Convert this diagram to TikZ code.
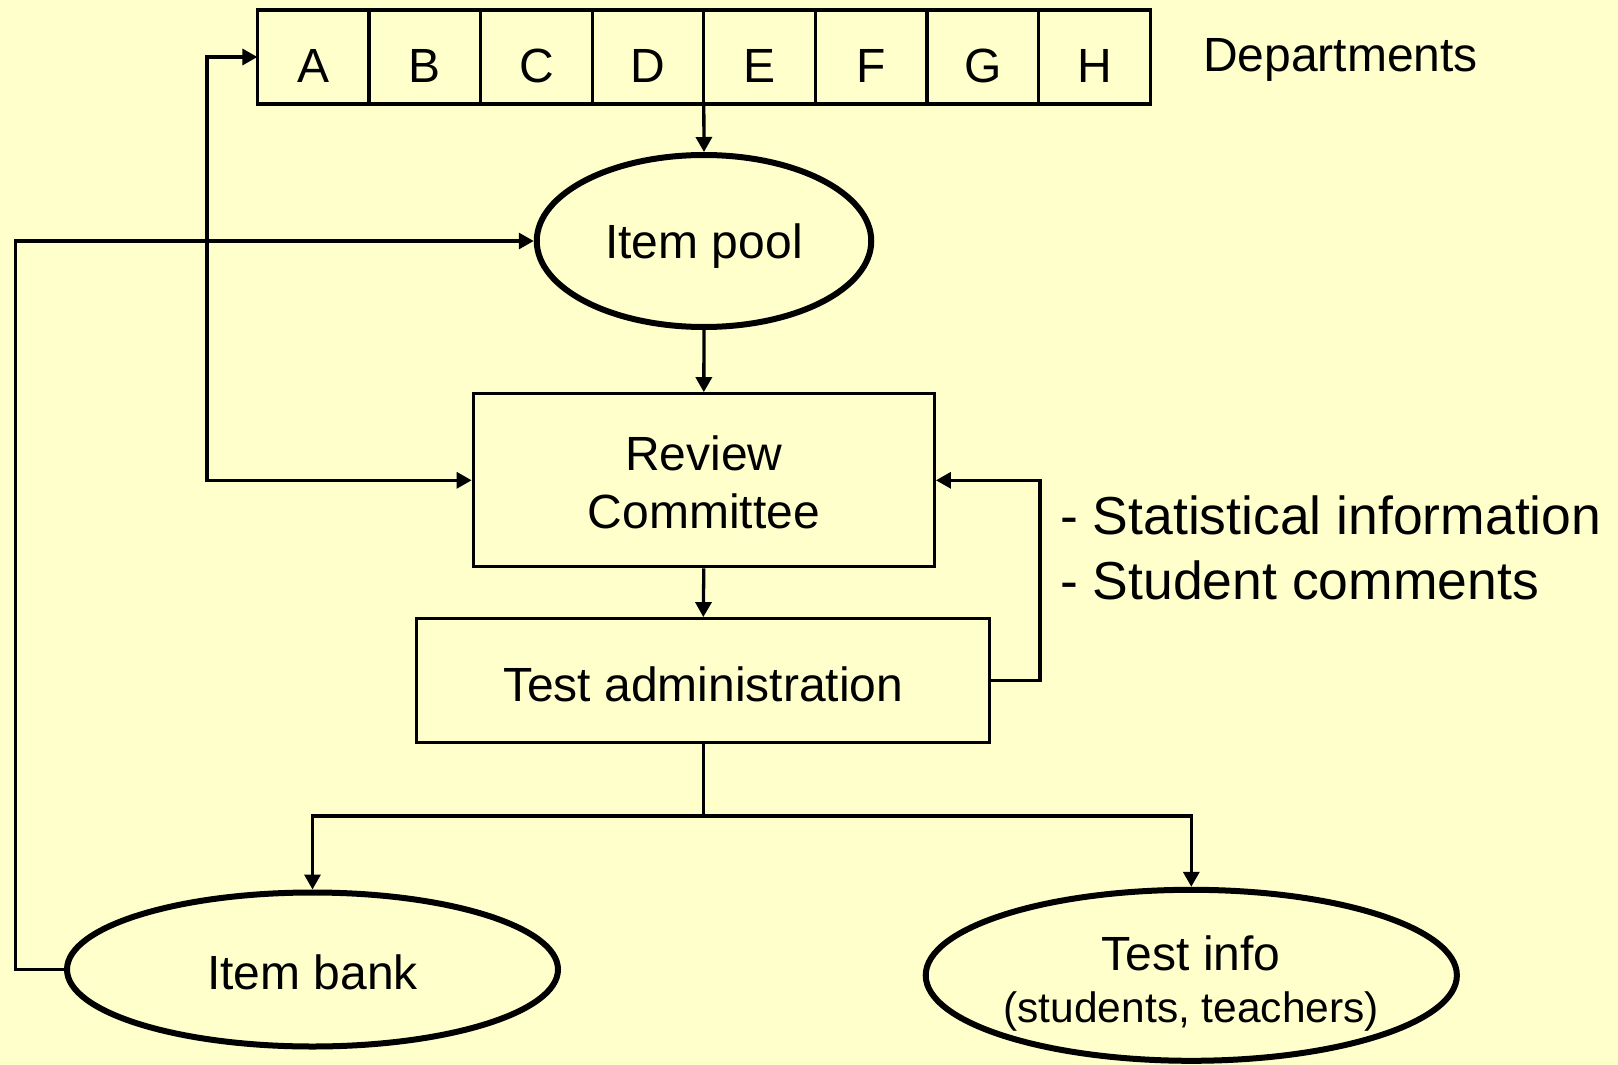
\documentclass[tikz,border=0pt]{standalone}
\usepackage{fontspec}
\setmainfont{Liberation Sans}
\usetikzlibrary{arrows.meta,shapes.geometric}
\definecolor{bg}{HTML}{FFFFCC}
\begin{document}
\begin{tikzpicture}[x=1pt,y=-1pt,
  tip/.style={-{Triangle[length=15pt,width=16pt]}},
  conn/.style={line width=3.3pt},
  cell/.style={draw, line width=3.3pt, minimum width=111.6pt, minimum height=94pt,
    inner sep=0pt, outer sep=0pt, text height=50pt, text depth=0pt, font=\fontsize{48}{58}\selectfont},
  box/.style={draw, line width=3.3pt, inner sep=0pt, align=center, text depth=0pt,
    font=\fontsize{48}{58}\selectfont},
  oval/.style={draw, ellipse, line width=6pt, inner sep=0pt, align=center, text depth=0pt,
    font=\fontsize{48}{58}\selectfont},
  txt/.style={inner sep=0pt, font=\fontsize{48}{58}\selectfont},
  bigtxt/.style={inner sep=0pt, font=\fontsize{53.5}{62}\selectfont}
]
\fill[bg] (0,0) rectangle (1618,1065);
\useasboundingbox (0,0) rectangle (1618,1065);

% departments
\foreach \l [count=\i from 0] in {A,B,C,D,E,F,G,H}
  \node[cell] (d\l) at ({313.2+\i*111.6},57) {\l};
\node[txt, anchor=base west] (dept) at (1203,71) {Departments};

% main nodes
\node[oval, minimum width=334.5pt, minimum height=172pt] (ip) at (704,241) {Item pool};
\node[box, minimum width=461pt, minimum height=173pt, text height=97pt] (rc) at (703.8,480.3) {Review\\Committee};
\node[box, minimum width=573pt, minimum height=123.5pt, text height=41pt] (ta) at (703.3,680.5) {Test administration};
\node[oval, minimum width=491pt, minimum height=154pt, text height=39pt] (ib) at (312.5,969.5) {Item bank};
\node[oval, minimum width=527pt, minimum height=171pt, text height=95pt, font=\fontsize{48}{52}\selectfont] (ti) at (1191.3,975.3)
  {Test info\\{\fontsize{42.5}{52}\selectfont(students, teachers)}};

\node[bigtxt, anchor=base west] (stat) at (1060,534) {- Statistical information};
\node[bigtxt, anchor=base west] (comm) at (1060,599) {- Student comments};

% coordinates for connector bends
\coordinate (lx) at (207,0);
\coordinate (fx) at (15.5,0);
\coordinate (rx) at (1040,0);
\coordinate (split) at (703.3,816);

% connectors
\draw[conn, tip] (dD.south east) -- (ip.north);
\draw[conn, tip] (ip.south) -- (rc.north);
\draw[conn, tip] (rc.south) -- (ta.north);
\draw[conn, {Triangle[length=15pt,width=16pt]}-{Triangle[length=15pt,width=16pt]}]
  (dA.west) -- (dA.west -| lx) -- (rc.west -| lx) -- (rc.west);
\draw[conn, tip] (ib.west) -- (ib.west -| fx) -- (ip.west -| fx) -- (ip.west);
\draw[conn, tip] (ta.east) -- (ta.east -| rx) -- (rc.east -| rx) -- (rc.east);
\draw[conn] (ta.south) -- (split);
\draw[conn, tip] (split) -| (ib.north);
\draw[conn, tip] (split) -| (ti.north);
\end{tikzpicture}
\end{document}
